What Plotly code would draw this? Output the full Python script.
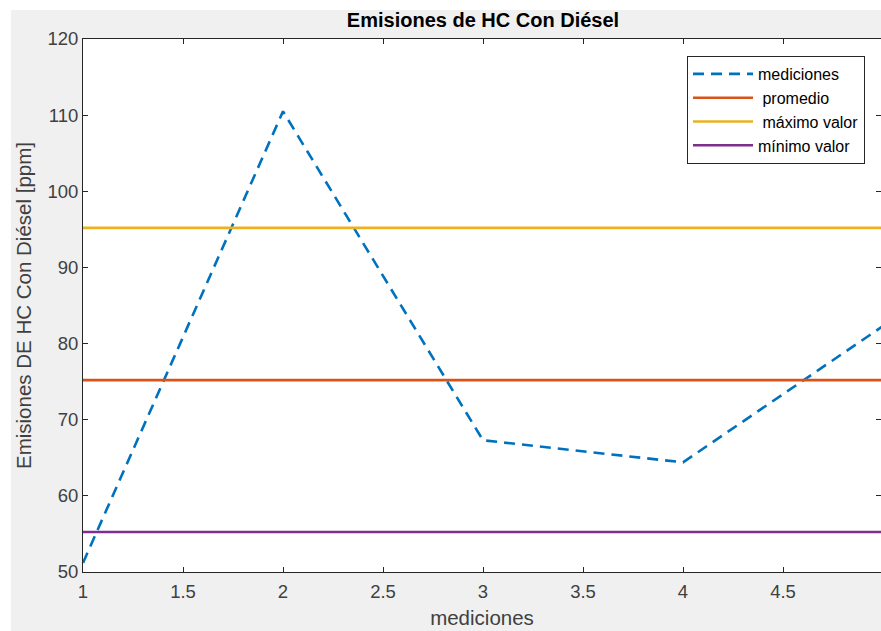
import plotly.graph_objects as go

# ---- data ----
mediciones_x = [1, 2, 3, 4, 5]
mediciones_y = [51.2, 110.5, 67.3, 64.4, 82.3]
promedio = 75.2
maximo = 95.2
minimo = 55.25
x_span = [1, 5]

title_text = "Emisiones de HC Con Diésel"
x_title = "mediciones"
y_title = "Emisiones DE HC Con Diésel [ppm]"
names = ["mediciones", " promedio", " máximo valor", "mínimo valor"]

# ---- layout geometry (pixels) ----
W, H = 881, 631
L, R, T, B = 83, 0, 39, 59
pw, ph = W - L - R, H - T - B

def px_x(p):
    return (p - L) / pw

def px_y(p):
    return (H - B - p) / ph

FONT = "Liberation Sans, Arial, sans-serif"
AX = "#262626"

fig = go.Figure()
fig.add_trace(go.Scatter(x=mediciones_x, y=mediciones_y, mode="lines", name=names[0],
                         line=dict(color="#0072BD", width=2.6, dash="11px,7px")))
fig.add_trace(go.Scatter(x=x_span, y=[promedio] * 2, mode="lines", name=names[1],
                         line=dict(color="#D95319", width=2.6)))
fig.add_trace(go.Scatter(x=x_span, y=[maximo] * 2, mode="lines", name=names[2],
                         line=dict(color="#EDB120", width=2.6)))
fig.add_trace(go.Scatter(x=x_span, y=[minimo] * 2, mode="lines", name=names[3],
                         line=dict(color="#7E2F8E", width=2.6)))

axis_common = dict(showline=True, linecolor=AX, linewidth=1, mirror="ticks",
                   ticks="inside", ticklen=5, tickcolor=AX, showgrid=False,
                   zeroline=False, tickfont=dict(family=FONT, size=18.5, color="#404040"))

fig.update_layout(
    width=W, height=H,
    margin=dict(l=L, r=R, t=T, b=B),
    paper_bgcolor="#f0f0f0", plot_bgcolor="white",
    font=dict(family=FONT, color="#262626"),
    title=dict(text="<b>" + title_text + "</b>", x=(L + 400) / W, xanchor="center",
               y=1 - 20 / H, yanchor="middle", font=dict(size=20, color="#000")),
    xaxis=dict(range=[1, 1 + pw / 200], dtick=0.5, tick0=1, ticklabelstandoff=3,
               title=dict(text=x_title, font=dict(size=20.5, color="#404040"), standoff=9),
               **axis_common),
    yaxis=dict(range=[50, 120], dtick=10, tick0=50,
               title=dict(text=y_title, font=dict(size=20.5, color="#404040"), standoff=10),
               **axis_common),
    showlegend=True,
    legend=dict(x=px_x(865), y=px_y(56), xanchor="right", yanchor="top",
                bgcolor="white", bordercolor="#262626", borderwidth=1,
                font=dict(family=FONT, size=16, color="#000"), itemwidth=60,
                tracegroupgap=0),
    shapes=[
        dict(type="rect", xref="paper", yref="paper", x0=px_x(0), x1=px_x(11),
             y0=px_y(H), y1=px_y(0), fillcolor="white", line=dict(width=0), layer="below"),
        dict(type="rect", xref="paper", yref="paper", x0=px_x(0), x1=px_x(W),
             y0=px_y(10), y1=px_y(0), fillcolor="white", line=dict(width=0), layer="below"),
    ],
)

fig.write_html("out.html")
